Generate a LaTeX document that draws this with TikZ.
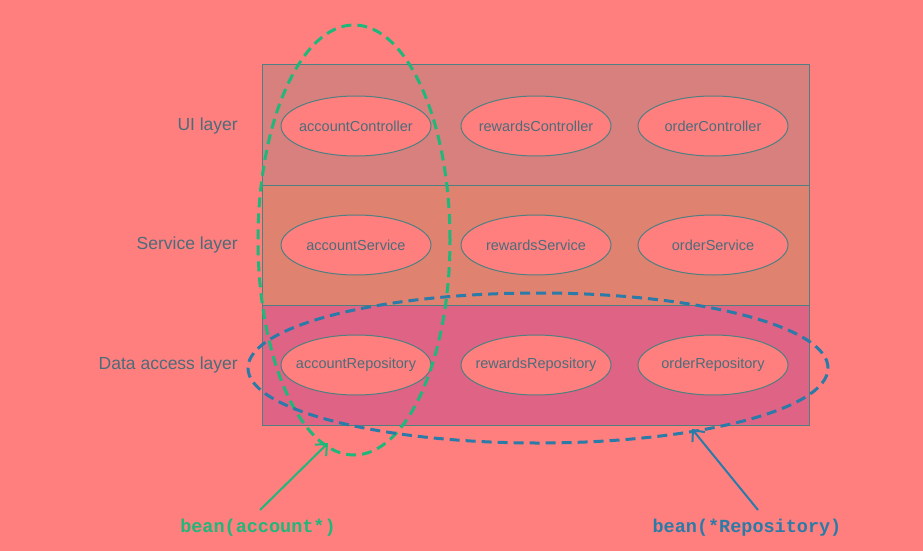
\documentclass[tikz,border=0pt]{standalone}
\usepackage{fontspec}
\setmainfont{Liberation Sans}
\setmonofont{Liberation Mono}
\usetikzlibrary{shapes.geometric,arrows.meta}
\definecolor{bgc}{HTML}{FF7F7F}
\definecolor{uic}{HTML}{D8807E}
\definecolor{svc}{HTML}{DF826F}
\definecolor{dac}{HTML}{DE6385}
\definecolor{strk}{HTML}{4F7F80}
\definecolor{txtc}{HTML}{4C6C7A}
\definecolor{grn}{HTML}{1FB77A}
\definecolor{blu}{HTML}{2B7BA8}
\tikzset{
  bean/.style={ellipse, draw=strk, line width=1pt, fill=bgc, minimum width=150pt, minimum height=60pt, inner xsep=-25pt, inner ysep=0pt, text=txtc, font=\fontsize{14.5}{16}\selectfont},
  layerlbl/.style={anchor=east, text=txtc, inner sep=0pt, font=\fontsize{17.5}{20}\selectfont},
  band/.style={draw=strk, line width=1pt},
  selgreen/.style={draw=grn, line width=3pt, dash pattern=on 10pt off 6pt},
  selblue/.style={draw=blu, line width=3pt, dash pattern=on 10pt off 6pt},
  ptr/.style={line width=2pt, -{Straight Barb[length=9pt,width=16pt]}},
  pclbl/.style={inner sep=0pt, font=\fontsize{18.5}{20}\selectfont\ttfamily\bfseries},
}
\begin{document}
\begin{tikzpicture}[x=1pt,y=-1pt]
\fill[bgc] (0,0) rectangle (923,551);
\useasboundingbox (0,0) rectangle (923,551);
% bands
\path[band, fill=uic] (262,65) rectangle (809,185);
\path[band, fill=svc] (262,185) rectangle (809,305);
\path[band, fill=dac] (262,305) rectangle (809,425);
% layer labels
\node[layerlbl] (lui) at (238,126) {UI layer};
\node[layerlbl] (lsv) at (238,245) {Service layer};
\node[layerlbl] (lda) at (238,365) {Data access layer};
% beans
\node[bean] (ac) at (356,126) {accountController};
\node[bean] (rc) at (536,126) {rewardsController};
\node[bean] (oc) at (713,126) {orderController};
\node[bean] (as) at (356,245) {accountService};
\node[bean] (rs) at (536,245) {rewardsService};
\node[bean] (os) at (713,245) {orderService};
\node[bean] (ar) at (356,365) {accountRepository};
\node[bean] (rr) at (536,365) {rewardsRepository};
\node[bean] (or) at (713,365) {orderRepository};
% selections
\draw[selgreen] (354,240) ellipse [x radius=96pt, y radius=215pt];
\draw[selblue] (538,368) ellipse [x radius=290pt, y radius=75pt];
% pointcut labels and arrows
\node[pclbl, text=grn] (pg) at (258,528) {bean(account*)};
\node[pclbl, text=blu] (pb) at (747,528) {bean(*Repository)};
\coordinate (gs) at (260,510);
\coordinate (ge) at (328,443);
\coordinate (bs) at (758,510);
\coordinate (be) at (692,429);
\draw[ptr, grn] (gs) -- (ge);
\draw[ptr, blu] (bs) -- (be);
\end{tikzpicture}
\end{document}
